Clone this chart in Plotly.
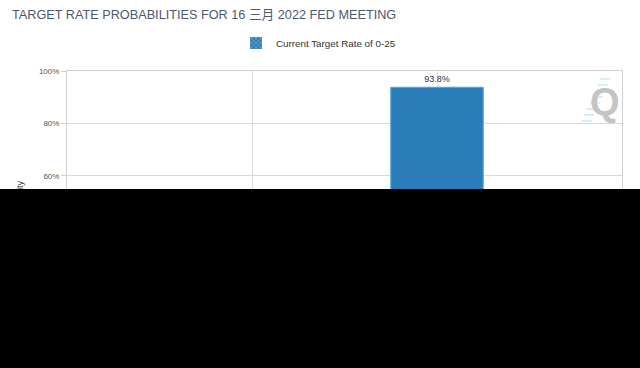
import plotly.graph_objects as go

title_text = "TARGET RATE PROBABILITIES FOR 16 三月 2022 FED MEETING"
categories = ["0-25", "25-50"]
probabilities = [6.2, 93.8]
current_label = "Current Target Rate of 0-25"
y_ticks = [0, 20, 40, 60, 80, 100]
y_ticktext = [f"{v}%" for v in y_ticks]

FONT = "Liberation Sans, Arial, Noto Sans CJK SC, sans-serif"
BLUE = "#2a7db9"

W, H = 640, 368
L, R, T, B = 67, 18, 71, 34.5
PW, PH = W - L - R, H - T - B


def px(x):
    return (x - L) / PW


def py(y):
    return (H - B - y) / PH


fig = go.Figure()
fig.add_trace(go.Bar(
    x=[categories[0]], y=[probabilities[0]], name=current_label,
    width=0.5,
    marker=dict(color=BLUE, line=dict(width=0),
                pattern=dict(shape="x", fgcolor="white", size=4, solidity=0.3)),
    text=[f"{probabilities[0]}%"], textposition="outside",
    textfont=dict(size=9, color="#333"), cliponaxis=False,
))
fig.add_trace(go.Bar(
    x=[categories[1]], y=[probabilities[1]], showlegend=False,
    width=0.5,
    marker=dict(color=BLUE, line=dict(width=1, color="#5aa6dc")),
    text=[f"{probabilities[1]}%"], textposition="outside",
    textfont=dict(size=9, color="#333"), cliponaxis=False,
))

fig.update_layout(
    width=W, height=H,
    margin=dict(l=L, r=R, t=T, b=B, autoexpand=False),
    paper_bgcolor="white", plot_bgcolor="white",
    font=dict(family=FONT, size=9, color="#555"),
    barmode="overlay",
    title=dict(text=title_text, x=12/W, xanchor="left", xref="container",
               y=1-15/H, yanchor="middle", yref="container",
               font=dict(size=12.7, color="#4a5870", family=FONT)),
    legend=dict(orientation="h", x=236/W, xanchor="left", xref="container",
                y=1-43/H, yanchor="middle", yref="container",
                font=dict(size=9.8, color="#333"), itemwidth=30),
    xaxis=dict(type="category", categoryorder="array", categoryarray=categories,
               range=[-1, 2], showgrid=True, gridcolor="#d9d9d9",
               showline=True, linecolor="#d0d0d0", mirror=True, automargin=False,
               ticks="", tickfont=dict(size=9, color="#555")),
    yaxis=dict(range=[0, 100], tickvals=y_ticks, ticktext=y_ticktext,
               showgrid=True, gridcolor="#d9d9d9", zeroline=False,
               showline=True, linecolor="#d0d0d0", mirror=True, automargin=False,
               ticks="outside", ticklen=5, tickcolor="#d0d0d0",
               tickfont=dict(size=8, color="#555")),
)

# Axis titles
fig.add_annotation(text="Probability", textangle=-90, x=px(20), y=0.5,
                   xref="paper", yref="paper", xanchor="center", yanchor="middle",
                   showarrow=False, font=dict(size=9, color="#333"))
fig.add_annotation(text="Target Rate (in bps)", x=0.5, y=py(356),
                   xref="paper", yref="paper", xanchor="center", yanchor="middle",
                   showarrow=False, font=dict(size=9, color="#333"))

# Watermark logo
for yy, x0 in [(79, 600), (85, 598), (91, 596), (97, 593), (103, 590), (109, 587), (115, 584), (121, 582)]:
    fig.add_shape(type="line", xref="paper", yref="paper",
                  x0=px(x0), x1=px(x0 + 10), y0=py(yy), y1=py(yy),
                  line=dict(color="#c8ecf0", width=1.5), layer="above")
fig.add_annotation(text="<b>Q</b>", x=px(605), y=py(102), xref="paper", yref="paper",
                   xanchor="center", yanchor="middle",
                   showarrow=False, font=dict(size=38, color="#c4c4c4", family=FONT))

# Occluding black region present in the reference (drawn last, on top)
fig.add_annotation(text=" ", x=px(-10), y=py(189), xref="paper", yref="paper",
                   xanchor="left", yanchor="top", showarrow=False,
                   width=680, height=200, bgcolor="black", borderpad=0,
                   borderwidth=0)

fig.write_html("out.html", config={"displayModeBar": False},
               post_script="document.body.style.margin='0';")
